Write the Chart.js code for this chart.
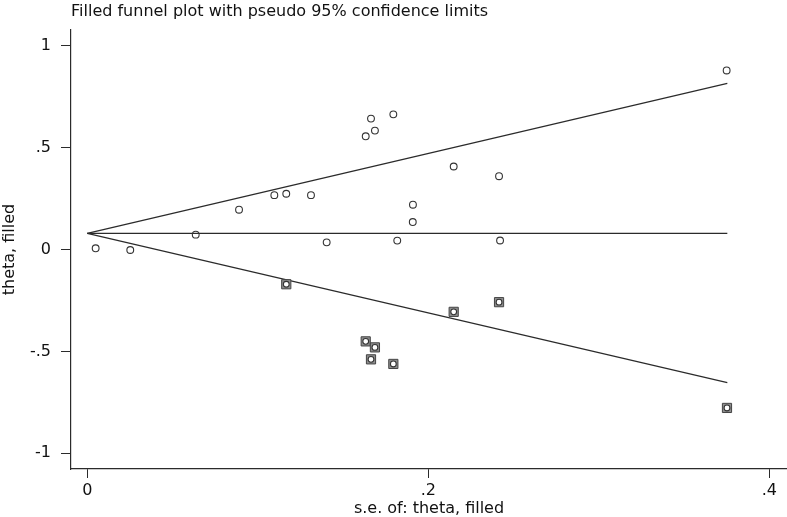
<!DOCTYPE html>
<html>
<head>
<meta charset="utf-8">
<script src="https://cdn.jsdelivr.net/npm/chart.js@4.4.1/dist/chart.umd.min.js"></script>
<style>
  html, body { margin: 0; padding: 0; background: #fff; }
  #wrap { width: 787px; height: 517px; }
</style>
</head>
<body>
<div id="wrap"><canvas id="funnel" width="787" height="517"></canvas></div>
<script>
// observed studies
const seObserved = [0.0049, 0.0252, 0.0636, 0.0890, 0.1097, 0.1167, 0.1312, 0.1404, 0.1818, 0.1910,
    0.1909, 0.1633, 0.1664, 0.1687, 0.1795, 0.2149, 0.2415, 0.2421, 0.3750];
const thetaObserved = [0.0064, -0.002, 0.0735, 0.1959, 0.2674, 0.2742, 0.2674, 0.0357, 0.0441, 0.2204,
    0.1352, 0.5563, 0.6430, 0.5842, 0.6640, 0.4079, 0.3604, 0.0446, 0.8795];

// studies added by trim and fill
const seFilled = [0.1167, 0.2149, 0.2415, 0.1633, 0.1687, 0.1664, 0.1795, 0.3752];
const thetaFilled = [-0.170, -0.3056, -0.258, -0.4505, -0.480, -0.5387, -0.5612, -0.7772];

// pooled estimate and pseudo 95% limits
const seLine = [0, 0.3754];
const pooledLine = [0.0798, 0.0798];
const upperLimit = [0.0798, 0.8159];
const lowerLimit = [0.0798, -0.6533];

const xTicks = [0, 0.2, 0.4];
const xTickLabels = ["0", ".2", ".4"];
const yTicks = [-1, -0.5, 0, 0.5, 1];
const yTickLabels = ["-1", "-.5", "0", ".5", "1"];

const ink = "#2b2b2b";
const fontFamily = "'DejaVu Sans', sans-serif";

function toPoints(xs, ys) {
    return xs.map((x, i) => ({ x: x, y: ys[i] }));
}

function lineSet(ys) {
    return {
        data: toPoints(seLine, ys),
        showLine: true,
        borderColor: ink,
        borderWidth: 1.2,
        pointRadius: 0,
        fill: false,
        order: 3,
    };
}

new Chart(document.getElementById("funnel"), {
    type: "scatter",
    data: {
        datasets: [
            {
                data: toPoints(seObserved, thetaObserved),
                pointStyle: "circle",
                pointRadius: 3.4,
                borderWidth: 1.1,
                borderColor: "#333",
                backgroundColor: "rgba(255,255,255,0)",
                order: 0,
            },
            {
                data: toPoints(seFilled, thetaFilled),
                pointStyle: "circle",
                pointRadius: 2.9,
                borderWidth: 1.1,
                borderColor: "#333",
                backgroundColor: "#fff",
                order: 1,
            },
            {
                data: toPoints(seFilled, thetaFilled),
                pointStyle: "rect",
                pointRadius: 6.5,
                borderWidth: 1,
                borderColor: "#444",
                backgroundColor: "#8e8e8e",
                order: 2,
            },
            lineSet(pooledLine),
            lineSet(upperLimit),
            lineSet(lowerLimit),
        ],
    },
    options: {
        responsive: false,
        animation: false,
        layout: { padding: 0, autoPadding: false },
        plugins: {
            legend: { display: false },
            tooltip: { enabled: false },
            title: {
                display: true,
                text: "Filled funnel plot with pseudo 95% confidence limits",
                align: "start",
                fullSize: false,
                color: "#111",
                font: { family: fontFamily, size: 16, weight: "normal", lineHeight: 1.2 },
                padding: { top: 2, bottom: 8.8 },
            },
        },
        scales: {
            x: {
                type: "linear",
                min: -0.00956,
                max: 0.4104,
                afterFit: (s) => { s.height = 48; },
                afterBuildTicks: (s) => { s.ticks = xTicks.map((v) => ({ value: v })); },
                ticks: {
                    color: "#111",
                    padding: 3,
                    maxRotation: 0,
                    font: { family: fontFamily, size: 16 },
                    callback: (v) => xTickLabels[xTicks.indexOf(v)],
                },
                grid: { drawOnChartArea: false, drawTicks: true, tickLength: 9, color: ink },
                border: { display: true, color: ink, width: 1.2 },
                title: {
                    display: true,
                    text: "s.e. of: theta, filled",
                    color: "#111",
                    font: { family: fontFamily, size: 16, lineHeight: 1 },
                    padding: { top: 0, bottom: 0 },
                },
            },
            y: {
                type: "linear",
                min: -1.077,
                max: 1.078,
                afterFit: (s) => { s.width = 71; },
                afterBuildTicks: (s) => { s.ticks = yTicks.map((v) => ({ value: v })); },
                ticks: {
                    color: "#111",
                    padding: 10,
                    font: { family: fontFamily, size: 16 },
                    callback: (v) => yTickLabels[yTicks.indexOf(v)],
                },
                grid: { drawOnChartArea: false, drawTicks: true, tickLength: 10, color: ink },
                border: { display: true, color: ink, width: 1.2 },
                title: {
                    display: true,
                    text: "theta, filled",
                    color: "#111",
                    font: { family: fontFamily, size: 16, lineHeight: 1.2 },
                    padding: { top: 0, bottom: 0 },
                },
            },
        },
    },
});
</script>
</body>
</html>
